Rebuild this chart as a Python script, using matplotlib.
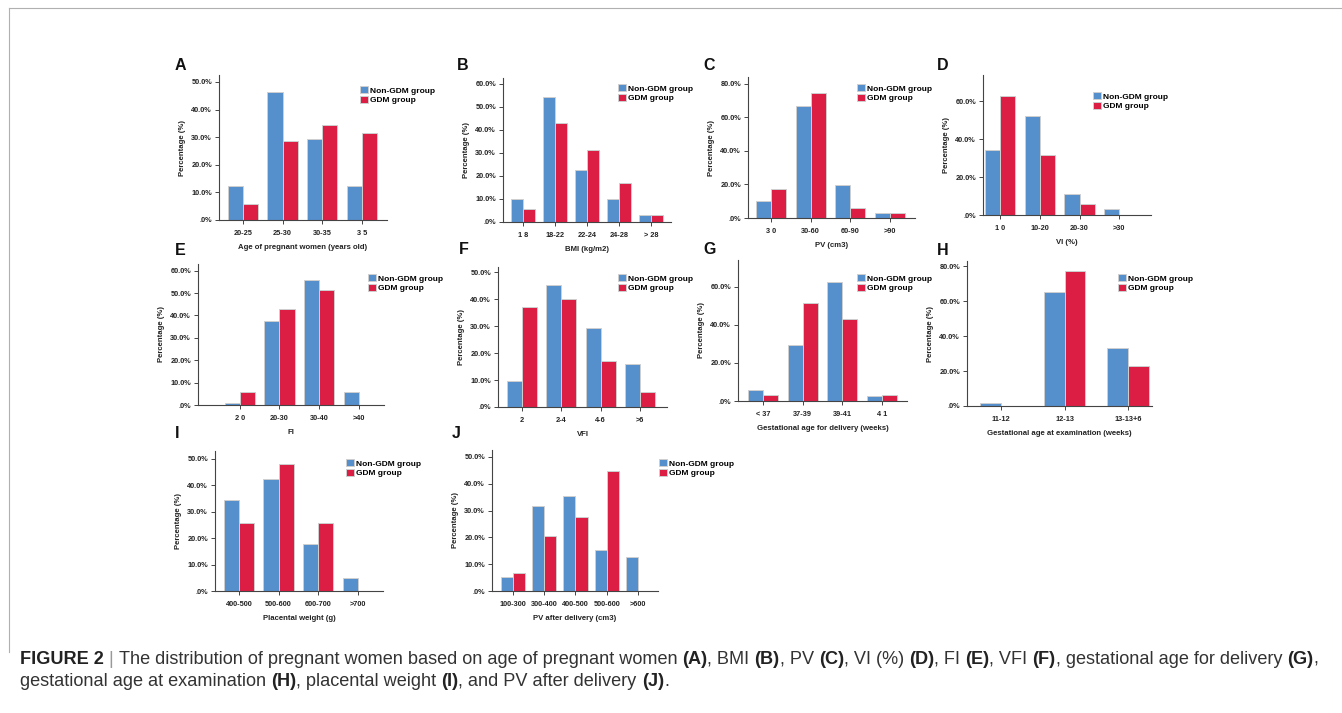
import numpy as np
import matplotlib
matplotlib.use("Agg")
import matplotlib.pyplot as plt
from matplotlib.ticker import FuncFormatter

plt.rcParams['font.family'] = ['Liberation Sans', 'DejaVu Sans']

# ---- data (percent) ----
age_cats = ["20-25", "25-30", "30-35", "3 5"]
age_non = [12.2, 46.3, 29.3, 12.2]
age_gdm = [5.7, 28.6, 34.3, 31.4]

bmi_cats = ["1 8", "18-22", "22-24", "24-28", "> 28"]
bmi_non = [9.8, 54.4, 22.8, 9.8, 2.9]
bmi_gdm = [5.7, 42.9, 31.4, 17.1, 2.9]

pv_cats = ["3 0", "30-60", "60-90", ">90"]
pv_non = [10.3, 67.0, 19.8, 2.9]
pv_gdm = [17.1, 74.3, 5.7, 2.9]

vi_cats = ["1 0", "10-20", "20-30", ">30"]
vi_non = [34.0, 52.0, 11.2, 2.9]
vi_gdm = [62.9, 31.4, 5.7, 0.0]

fi_cats = ["2 0", "20-30", "30-40", ">40"]
fi_non = [1.0, 37.6, 55.8, 5.6]
fi_gdm = [5.7, 42.9, 51.4, 0.0]

vfi_cats = ["2", "2-4", "4-6", ">6"]
vfi_non = [9.5, 45.3, 29.3, 16.0]
vfi_gdm = [37.1, 40.0, 17.1, 5.7]

gad_cats = ["< 37", "37-39", "39-41", "4 1"]
gad_non = [5.6, 29.3, 62.3, 2.8]
gad_gdm = [2.9, 51.4, 42.9, 2.9]

gae_cats = ["11-12", "12-13", "13-13+6"]
gae_non = [1.9, 65.2, 33.0]
gae_gdm = [0.0, 77.1, 22.9]

plw_cats = ["400-500", "500-600", "600-700", ">700"]
plw_non = [34.6, 42.3, 17.9, 5.1]
plw_gdm = [25.9, 48.1, 25.9, 0.0]

pvd_cats = ["100-300", "300-400", "400-500", "500-600", ">600"]
pvd_non = [5.1, 31.7, 35.4, 15.2, 12.7]
pvd_gdm = [6.9, 20.7, 27.6, 44.8, 0.0]

W, H = 1342, 713
BLUE = '#5590cd'
RED = '#dc1e45'
EDGE = '#cfcfcf'
INK = '#222222'

fig = plt.figure(figsize=(W / 100, H / 100), dpi=100)

# light frame (top and left)
fig.add_artist(plt.Line2D([9 / W, 1], [1 - 8 / H, 1 - 8 / H], color='#b0b0b0', lw=0.8))
fig.add_artist(plt.Line2D([9 / W, 9 / W], [1 - 8 / H, 1 - 652 / H], color='#b0b0b0', lw=0.8))

# letter, cats, non, gdm, xlabel, box(px), ymax, yticks, xlim, bar width, legend(px), letter pos(px)
panels = [
    ("A", age_cats, age_non, age_gdm, "Age of pregnant women (years old)",
     (219, 75, 387, 220), 52.5, np.arange(0, 51, 10), (-0.6, 3.63), 0.38, (360, 86), (175, 65)),
    ("B", bmi_cats, bmi_non, bmi_gdm, "BMI (kg/m2)",
     (503, 78, 671, 222), 62.6, np.arange(0, 61, 10), (-0.62, 4.62), 0.38, (618, 84), (457, 65)),
    ("C", pv_cats, pv_non, pv_gdm, "PV (cm3)",
     (748, 77, 915, 218), 84, np.arange(0, 81, 20), (-0.58, 3.63), 0.38, (857, 84), (703, 65)),
    ("D", vi_cats, vi_non, vi_gdm, "VI (%)",
     (983, 75, 1151, 215), 73.7, np.arange(0, 61, 20), (-0.43, 3.8), 0.38, (1093, 92), (937, 65)),
    ("E", fi_cats, fi_non, fi_gdm, "FI",
     (198, 264, 384, 405), 63, np.arange(0, 61, 10), (-1.05, 3.63), 0.38, (368, 274), (175, 250)),
    ("F", vfi_cats, vfi_non, vfi_gdm, "VFI",
     (498, 267, 667, 407), 52, np.arange(0, 51, 10), (-0.6, 3.68), 0.38, (618, 274), (459, 249)),
    ("G", gad_cats, gad_non, gad_gdm, "Gestational age for delivery (weeks)",
     (738, 260, 907, 401), 74, np.arange(0, 61, 20), (-0.63, 3.63), 0.38, (857, 274), (703, 249)),
    ("H", gae_cats, gae_non, gae_gdm, "Gestational age at examination (weeks)",
     (967, 261, 1152, 406), 83, np.arange(0, 81, 20), (-0.54, 2.38), 0.33, (1118, 274), (937, 250)),
    ("I", plw_cats, plw_non, plw_gdm, "Placental weight (g)",
     (215, 451, 383, 591), 53, np.arange(0, 51, 10), (-0.6, 3.63), 0.38, (346, 459), (175, 434)),
    ("J", pvd_cats, pvd_non, pvd_gdm, "PV after delivery (cm3)",
     (492, 450, 658, 591), 52.6, np.arange(0, 51, 10), (-0.67, 4.64), 0.39, (659, 459), (452, 434)),
]


def pct(v, pos):
    s = f"{v:.1f}%"
    return s[1:] if s.startswith("0") else s


for (letter, cats, non, gdm, xlab, box, ymax, yt, xl, bw, leg, lpos) in panels:
    x0, y0, x1, y1 = box
    ax = fig.add_axes([x0 / W, 1 - y1 / H, (x1 - x0) / W, (y1 - y0) / H])
    x = np.arange(len(cats))
    ax.bar(x - bw / 2, non, bw, color=BLUE, edgecolor=EDGE, linewidth=0.7, label="Non-GDM group")
    ax.bar(x + bw / 2, gdm, bw, color=RED, edgecolor=EDGE, linewidth=0.7, label="GDM group")
    ax.set_xlim(*xl)
    ax.set_ylim(0, ymax)
    ax.set_xticks(x)
    ax.set_xticklabels(cats)
    ax.set_yticks(yt)
    ax.yaxis.set_major_formatter(FuncFormatter(pct))
    for s in ('top', 'right'):
        ax.spines[s].set_visible(False)
    for s in ('left', 'bottom'):
        ax.spines[s].set_color('#444444')
        ax.spines[s].set_linewidth(0.8)
    ax.tick_params(axis='both', length=3, width=0.7, color='#444444', labelcolor=INK, pad=2)
    ax.tick_params(axis='x', pad=4)
    for t in ax.get_xticklabels() + ax.get_yticklabels():
        t.set_fontsize(5.3)
        t.set_fontweight('bold')
    ax.set_ylabel("Percentage (%)", fontsize=5.6, fontweight='bold', color=INK, labelpad=4)
    ax.set_xlabel(xlab, fontsize=5.6, fontweight='bold', color=INK, labelpad=5)
    ax.legend(loc='upper left', bbox_to_anchor=(leg[0] / W, 1 - leg[1] / H),
              bbox_transform=fig.transFigure, frameon=False, prop={'weight': 'bold', 'size': 6},
              borderpad=0, borderaxespad=0, handlelength=1.0, handleheight=1.0,
              handletextpad=0.15, labelspacing=0.15)
    fig.text(lpos[0] / W, 1 - lpos[1] / H, letter, fontsize=11.5, fontweight='bold',
             ha='left', va='center', color='#111111')

# ---- caption ----
CAP_FONT = ['Liberation Sans Narrow', 'Liberation Sans', 'DejaVu Sans']
line1 = [("FIGURE 2", True, '#222222'), (" | ", False, '#999999'),
         ("The distribution of pregnant women based on age of pregnant women ", False, '#333333'),
         ("(A)", True, '#222222'), (", BMI ", False, '#333333'), ("(B)", True, '#222222'),
         (", PV ", False, '#333333'), ("(C)", True, '#222222'), (", VI (%) ", False, '#333333'),
         ("(D)", True, '#222222'), (", FI ", False, '#333333'), ("(E)", True, '#222222'),
         (", VFI ", False, '#333333'), ("(F)", True, '#222222'),
         (", gestational age for delivery ", False, '#333333'), ("(G)", True, '#222222'),
         (",", False, '#333333')]
line2 = [("gestational age at examination ", False, '#333333'), ("(H)", True, '#222222'),
         (", placental weight ", False, '#333333'), ("(I)", True, '#222222'),
         (", and PV after delivery ", False, '#333333'), ("(J)", True, '#222222'),
         (".", False, '#333333')]

renderer = fig.canvas.get_renderer()


def draw_runs(runs, x, y, size):
    made = []
    for txt, bold, col in runs:
        t = fig.text(x / W, 1 - y / H, txt, fontsize=size, fontweight='bold' if bold else 'normal',
                     family=CAP_FONT, ha='left', va='center', color=col)
        made.append(t)
        x += t.get_window_extent(renderer=renderer).width
    return x, made


size = 10.0
end, made = draw_runs(line1, 20, 659, size)
for t in made:
    t.remove()
size = size * (1325 - 20) / (end - 20)
draw_runs(line1, 20, 659, size)
draw_runs(line2, 20, 681, size)

fig.savefig("out.png", dpi=100)
